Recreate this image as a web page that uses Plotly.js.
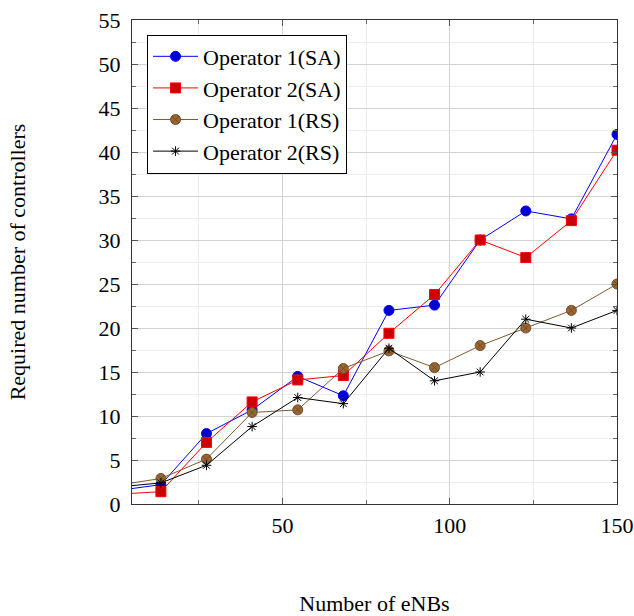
<!DOCTYPE html>
<html>
<head>
<meta charset="utf-8">
<script src="https://cdn.plot.ly/plotly-3.0.1.min.js"></script>
<style>
  html, body { margin: 0; padding: 0; background: #fff; }
  #chart { width: 634px; height: 616px; }
</style>
</head>
<body>
<div id="chart"></div>
<script>
// Number of eNBs (first point lies left of the visible axis range)
const eNBs = [0, 13.64, 27.27, 40.91, 54.55, 68.18, 81.82, 95.45, 109.09, 122.73, 136.36, 150];

// Required number of controllers
const op1SA = [1.5, 2.2, 8.0, 10.7, 14.5, 12.3, 22.0, 22.6, 30.0, 33.3, 32.4, 42.0];
const op2SA = [1.1, 1.4, 7.0, 11.6, 14.1, 14.6, 19.4, 23.8, 30.0, 28.0, 32.2, 40.2];
const op1RS = [2.1, 2.9, 5.1, 10.4, 10.7, 15.4, 17.4, 15.5, 18.0, 20.0, 22.0, 25.0];
const op2RS = [1.9, 2.4, 4.4, 8.8, 12.1, 11.4, 17.7, 14.0, 15.0, 21.0, 20.0, 22.0];

const seriesNames = ["Operator 1(SA)", "Operator 2(SA)", "Operator 1(RS)", "Operator 2(RS)"];

const xTitle = "Number of eNBs";
const yTitle = "Required number of controllers";

const FONT = "Liberation Serif, Times New Roman, serif";

const traces = [
  {
    x: eNBs, y: op1SA, name: seriesNames[0], type: "scatter", mode: "lines+markers",
    line: { color: "#0000FF", width: 1 },
    marker: { symbol: "circle", size: 10, color: "#0000CC", line: { color: "#0000FF", width: 1 } }
  },
  {
    x: eNBs, y: op2SA, name: seriesNames[1], type: "scatter", mode: "lines+markers",
    line: { color: "#FF0000", width: 1 },
    marker: { symbol: "square", size: 10, color: "#CC0000", line: { color: "#FF0000", width: 1 } }
  },
  {
    x: eNBs, y: op1RS, name: seriesNames[2], type: "scatter", mode: "lines+markers",
    line: { color: "#7f5a34", width: 1 },
    marker: { symbol: "circle-x", size: 10, color: "#996633", line: { color: "#734D26", width: 1 } }
  },
  {
    x: eNBs, y: op2RS, name: seriesNames[3], type: "scatter", mode: "lines+markers",
    line: { color: "#000000", width: 1 },
    marker: { symbol: "asterisk-open", size: 8, color: "#000000", line: { color: "#000000", width: 1 } }
  }
];

const layout = {
  width: 634, height: 616,
  margin: { l: 132, r: 17, t: 20, b: 112 },
  paper_bgcolor: "#ffffff", plot_bgcolor: "#ffffff",
  font: { family: FONT, size: 22, color: "#000" },
  showlegend: true,
  legend: {
    x: 0.031, y: 0.97, xanchor: "left", yanchor: "top",
    bgcolor: "#ffffff", bordercolor: "#000000", borderwidth: 1,
    font: { family: FONT, size: 22, color: "#000" },
    itemwidth: 45,
    tracegroupgap: 0
  },
  xaxis: {
    range: [5, 150], tick0: 0, dtick: 50,
    showgrid: true, gridcolor: "#d2d2d2", gridwidth: 1,
    ticks: "inside", ticklen: 6, tickcolor: "#555", tickwidth: 1,
    showline: true, linecolor: "#333", linewidth: 1, mirror: "ticks",
    zeroline: false,
    tickfont: { family: FONT, size: 22 },
    ticklabelstandoff: 2,
    minor: { dtick: 25, tick0: 0, ticks: "inside", ticklen: 4, tickcolor: "#666", showgrid: true, gridcolor: "#ececec", gridwidth: 1 },
    title: { text: xTitle, font: { family: FONT, size: 22 }, standoff: 62 }
  },
  yaxis: {
    range: [0, 55], tick0: 0, dtick: 5,
    showgrid: true, gridcolor: "#d2d2d2", gridwidth: 1,
    ticks: "inside", ticklen: 6, tickcolor: "#555", tickwidth: 1,
    showline: true, linecolor: "#333", linewidth: 1, mirror: "ticks",
    zeroline: false,
    tickfont: { family: FONT, size: 22 },
    ticklabelstandoff: 6,
    minor: { dtick: 2.5, tick0: 0, ticks: "inside", ticklen: 4, tickcolor: "#666", showgrid: true, gridcolor: "#ececec", gridwidth: 1 },
    title: { text: yTitle, font: { family: FONT, size: 22 }, standoff: 66 }
  }
};

Plotly.newPlot("chart", traces, layout, { displayModeBar: false, staticPlot: true });
</script>
</body>
</html>
